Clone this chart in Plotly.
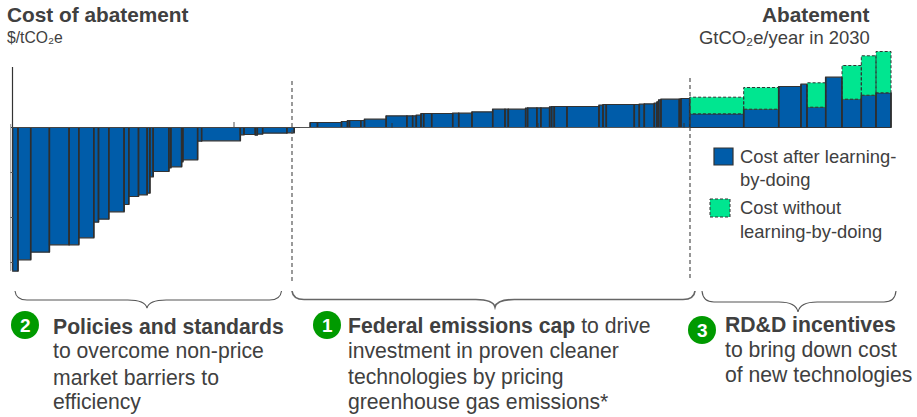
import plotly.graph_objects as go

# Abatement widths and costs for the three groups of measures, left to right
policy_width = [5.3, 12.7, 18.7, 19.7, 9.7, 15, 4.7, 10.3, 15.3, 4.7, 9.7, 8.7, 2.7, 3.3, 15.7, 2, 10.7, 1.3, 14.7, 4, 38.7, 3.7, 11.3, 2, 5.3, 24.3, 7.3]
policy_cost = [-143.7, -132.3, -124.7, -117.3, -117.3, -110.3, -94.7, -91.7, -84.3, -77, -69, -67.3, -65.7, -49.3, -44, -40.3, -39.3, -34.3, -32.3, -13.7, -13.3, -7.3, -7, -7.7, -6.7, -5.7, -5.3]

gap_width = [16]
gap_cost = [0]

cap_width = [7.3, 24, 6, 2, 11.3, 3.7, 21.7, 20.7, 5.7, 3.7, 4.7, 2.7, 8, 21, 6, 13.3, 20.7, 12.3, 3.3, 17.3, 2, 9.3, 4, 8.7, 2, 2.7, 12.7, 32, 4, 3.3, 28, 5, 5, 10, 2.7, 1.7, 2.3, 18.3, 1.7, 8.7]
cap_cost = [5, 5, 6, 7, 7, 7, 8.3, 11.7, 11.7, 11.7, 12.3, 14, 14, 14, 14.3, 14.3, 15.7, 18.3, 18.3, 18.3, 19.3, 19.7, 19.7, 19.7, 20.7, 21, 21, 21, 22.3, 23, 23, 23, 23.3, 23.7, 24.3, 25.7, 27.7, 28.3, 28.3, 29]

rdd_width = [54, 35, 22.3, 6, 18.7, 16.3, 19.3, 14.7, 15]
rdd_after = [13.7, 18.3, 41, 43.3, 20.3, 50.3, 28.3, 32.3, 34.7]
rdd_without = [30.3, 40, None, None, 44.7, None, 62, 71.7, 76]

axis_ticks = [-45, -90, -135]

BLUE = "#005CA9"
GREEN = "#00E690"
EDGE = "#333333"
TEXT = "#404040"
BASE = 127.5
START = 12.7
FONT = "Liberation Sans"


def Y(py):
    """Page row to cost axis value."""
    return BASE - py


widths = policy_width + gap_width + cap_width + rdd_width
after = policy_cost + gap_cost + cap_cost + rdd_after

mids, left = [], START
lefts = []
for w in widths:
    lefts.append(left)
    mids.append(left + w / 2)
    left += w

fig = go.Figure()
fig.add_bar(x=mids, y=after, width=widths, base=0,
            marker=dict(color=BLUE, line=dict(color=EDGE, width=1.2)),
            hoverinfo="skip", showlegend=False)

shapes = []


def line(x0, py0, x1, py1, color=EDGE, width=1, dash="solid"):
    shapes.append(dict(type="line", xref="x", yref="y", x0=x0, x1=x1, y0=Y(py0), y1=Y(py1),
                       line=dict(color=color, width=width, dash=dash), layer="above"))


# Dividers between neighbouring measures, as tall as the taller of the pair
for i in range(1, len(widths)):
    reach = after[i - 1] if abs(after[i - 1]) > abs(after[i]) else after[i]
    if reach != 0:
        shapes.append(dict(type="line", xref="x", yref="y", x0=lefts[i], x1=lefts[i], y0=0, y1=reach,
                           line=dict(color="#2E2E2E", width=1.6), layer="above"))
shapes.append(dict(type="line", xref="x", yref="y", x0=left, x1=left, y0=0, y1=after[-1],
                   line=dict(color="#2E2E2E", width=1.6), layer="above"))

# Extra cost without learning-by-doing, stacked on the bar with a dashed outline
rdd_start = len(policy_width) + len(gap_width) + len(cap_width)
gx, gy = [], []
for i, top in enumerate(rdd_without):
    if top is None:
        continue
    x0 = lefts[rdd_start + i]
    x1 = x0 + rdd_width[i]
    y0 = rdd_after[i]
    gx += [x0, x0, x1, x1, x0, None]
    gy += [y0, top, top, y0, y0, None]
fig.add_scatter(x=gx, y=gy, mode="lines", fill="toself", fillcolor=GREEN,
                line=dict(color=EDGE, width=1, dash="3px,2px"),
                hoverinfo="skip", showlegend=False)

# Cost axis, zero line and tick marks
line(12.5, 67, 12.5, 270, "#333333", 1.2)
line(10.7, 124, 10.7, 271, "#999999", 1)
line(11, BASE, 300, BASE, "#444444", 1.2)
line(300, BASE, 690, BASE, "#555555", 1.2)
for t in axis_ticks:
    shapes.append(dict(type="line", xref="x", yref="y", x0=10.5, x1=13, y0=t, y1=t,
                       line=dict(color="#555555", width=1)))
line(234, 122, 234, BASE, "#555555", 1)
for tx in (392, 538, 684):
    line(tx, 123, tx, BASE, "#333333", 1)

# Section dividers
line(292, 81, 292, 284, "#484848", 1.1, "4px,3px")
line(690, 78, 690, 281, "#404040", 1.1, "4px,3px")


def brace(x0, xm, x1, top, mid, tip, color="#555555", width=1.2):
    r = 12
    path = (f"M {x0},{Y(top)} Q {x0 + 1},{Y(mid)} {x0 + r},{Y(mid)} L {xm - r * 1.6},{Y(mid)} "
            f"Q {xm - 2},{Y(mid)} {xm},{Y(tip)} Q {xm + 2},{Y(mid)} {xm + r * 1.6},{Y(mid)} "
            f"L {x1 - r},{Y(mid)} Q {x1 - 1},{Y(mid)} {x1},{Y(top)}")
    shapes.append(dict(type="path", xref="x", yref="y", path=path, line=dict(color=color, width=width)))


brace(15, 147, 281.5, 291, 300, 308, "#555555", 1.1)
brace(292, 495, 695, 291, 299.5, 307, "#666666", 1.7)
brace(702, 798, 896, 291, 302, 312, "#555555", 1.1)

# Legend swatches
shapes.append(dict(type="rect", xref="x", yref="y", x0=714, x1=733, y0=Y(148), y1=Y(165),
                   fillcolor=BLUE, line=dict(color=EDGE, width=1.2)))
shapes.append(dict(type="rect", xref="x", yref="y", x0=710, x1=730, y0=Y(199), y1=Y(217),
                   fillcolor=GREEN, line=dict(color=EDGE, width=1, dash="3px,2px")))

# Numbered badges
for cx, cy in ((25, 325), (327, 325), (702, 330)):
    shapes.append(dict(type="circle", xref="x", yref="y", x0=cx - 14, x1=cx + 14, y0=Y(cy - 14), y1=Y(cy + 14),
                       fillcolor="#009A00", line=dict(width=0)))

annotations = []


def label(x, py, text, size=21.2, anchor="left", color=TEXT):
    annotations.append(dict(xref="x", yref="y", x=x, y=Y(py), text=text, showarrow=False,
                            xanchor=anchor, yanchor="middle", borderpad=0,
                            font=dict(family=FONT, size=size, color=color)))


label(6, 14, "<b>Cost of abatement</b>", 20.8)
label(6, 37, "$/tCO\u2082e", 15.7)
label(871, 14, "<b>Abatement</b>", 20.8, "right")
label(871, 37, "GtCO\u2082e/year in 2030", 18.4, "right")

label(739, 156, "Cost after learning-", 18.4)
label(739, 179, "by-doing", 18.4)
label(739, 207, "Cost without", 18.4)
label(739, 231, "learning-by-doing", 18.4)

label(25, 325, "<b>2</b>", 19, "center", "white")
label(327, 325, "<b>1</b>", 19, "center", "white")
label(702, 330, "<b>3</b>", 19, "center", "white")

label(52, 326, "<b>Policies and standards</b>")
label(52, 351, "to overcome non-price")
label(52, 377, "market barriers to")
label(52, 402, "efficiency")

label(347, 326, "<b>Federal emissions cap</b> to drive")
label(347, 351, "investment in proven cleaner")
label(347, 377, "technologies by pricing")
label(347, 402, "greenhouse gas emissions*")

label(724, 324, "<b>RD&D incentives</b>")
label(724, 350, "to bring down cost")
label(724, 375, "of new technologies")

fig.update_layout(
    width=917, height=417, margin=dict(l=0, r=0, t=0, b=0, pad=0),
    plot_bgcolor="white", paper_bgcolor="white", barmode="overlay",
    showlegend=False, shapes=shapes, annotations=annotations,
    xaxis=dict(range=[0, 917], visible=False, fixedrange=True),
    yaxis=dict(range=[BASE - 417, BASE], visible=False, fixedrange=True),
)
fig.write_html("out.html", config={"displayModeBar": False})
